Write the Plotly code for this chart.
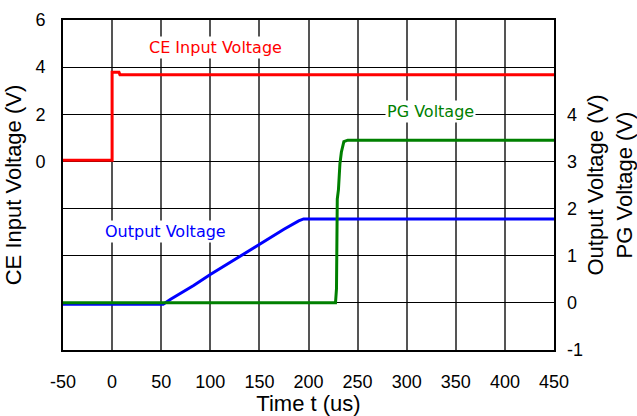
import plotly.graph_objects as go

# time axis (us)
ce_t = [-50, 0, 0, 7, 8, 450]
ce_v = [0.05, 0.05, 3.78, 3.78, 3.68, 3.68]

out_t = [-50, 52, 60, 70, 83, 100, 125, 150, 175, 190, 195, 450]
out_v = [-0.03, -0.03, 0.08, 0.2, 0.37, 0.6, 0.92, 1.25, 1.56, 1.74, 1.78, 1.78]

pg_t = [-50, 227.5, 228.5, 229.3, 230.5, 232, 233.5, 236, 240, 450]
pg_v = [0, 0, 0.3, 2.2, 2.4, 2.95, 3.2, 3.42, 3.45, 3.45]

x_ticks = list(range(-50, 451, 50))
x_labels = [str(v) for v in x_ticks]
left_ticks = [-8, -6, -4, -2, 0, 2, 4, 6]
left_labels = ["", "", "", "", "0", "2", "4", "6"]
right_ticks = [-1, 0, 1, 2, 3, 4]
right_labels = [str(v) for v in right_ticks]

fig = go.Figure()

fig.add_trace(go.Scatter(x=ce_t, y=ce_v, mode="lines", yaxis="y",
                         line=dict(color="#ff0000", width=3)))
fig.add_trace(go.Scatter(x=out_t, y=out_v, mode="lines", yaxis="y2",
                         line=dict(color="#0000ff", width=3)))
fig.add_trace(go.Scatter(x=pg_t, y=pg_v, mode="lines", yaxis="y2",
                         line=dict(color="#008000", width=3)))

lab_font = "DejaVu Sans"
fig.add_annotation(x=105, y=4.85, xref="x", yref="y", text="CE Input Voltage",
                   showarrow=False, bgcolor="white",
                   font=dict(family=lab_font, size=16, color="#ff0000"))
fig.add_annotation(x=324, y=4.06, xref="x", yref="y2", text="PG Voltage",
                   showarrow=False, bgcolor="white",
                   font=dict(family=lab_font, size=16, color="#008000"))
fig.add_annotation(x=54, y=1.52, xref="x", yref="y2", text="Output Voltage",
                   showarrow=False, bgcolor="white",
                   font=dict(family=lab_font, size=16, color="#0000ff"))

fig.update_layout(
    width=637, height=416,
    margin=dict(l=63, r=83, t=20, b=66),
    paper_bgcolor="white", plot_bgcolor="white",
    showlegend=False,
    font=dict(family="Liberation Sans, Arial", size=18, color="black"),
    xaxis=dict(range=[-50, 450], tickvals=x_ticks, ticktext=x_labels,
               showgrid=True, gridcolor="#555555", gridwidth=1.5,
               zeroline=False, showline=True, linecolor="black", linewidth=2,
               mirror=True, ticks="", ticklabelstandoff=14, automargin=False,
               title=dict(text="Time t (us)", standoff=6)),
    yaxis=dict(range=[-8, 6], tickvals=left_ticks, ticktext=left_labels,
               showgrid=True, gridcolor="black", gridwidth=1, zeroline=False,
               showline=True, linecolor="black", linewidth=2, mirror=True,
               ticks="", ticklabelstandoff=12, automargin=False,
               title=dict(text="CE Input Voltage (V)", standoff=8)),
    yaxis2=dict(range=[-1, 6], tickvals=right_ticks, ticktext=right_labels,
                overlaying="y", side="right", showgrid=False, zeroline=False,
                ticks="", ticklabelstandoff=12, automargin=False,
                title=dict(text="Output Voltage (V)<br>PG Voltage (V)",
                           standoff=10)),
)

# drop the default 8px page margin so the figure sits at the window's corner
fig.write_html("out.html", config={"displayModeBar": False},
               post_script="document.body.style.margin='0';")
